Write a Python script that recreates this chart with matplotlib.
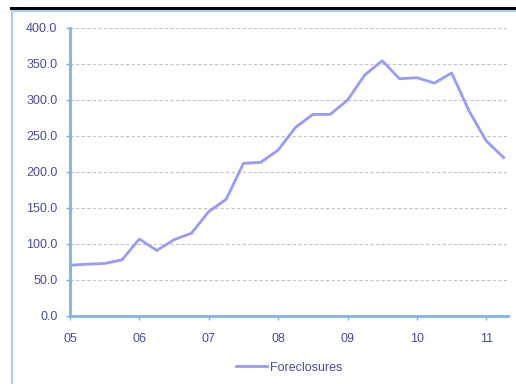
import matplotlib.pyplot as plt
from matplotlib.lines import Line2D

plt.rcParams['font.family'] = ['Liberation Sans', 'DejaVu Sans']

# quarterly values, 2005 Q1 .. 2011 Q2
quarters = list(range(26))
foreclosures = [70.5, 72, 73, 78, 107, 91, 106, 115, 145, 162, 212, 213.5,
                230.5, 262, 280, 280, 300, 335, 354.5, 329.5, 331, 323.5,
                337.5, 285, 243, 220]
year_labels = ['05', '06', '07', '08', '09', '10', '11']
y_ticks = [0, 50, 100, 150, 200, 250, 300, 350, 400]

text_col = '#4b4ba6'
spine_col = '#7fb3e8'
line_col = '#9999ff'

fig = plt.figure(figsize=(5.16, 3.84), dpi=100)

# outer frame and header rule
fig.add_artist(Line2D([11 / 516, 1], [1 - 7.5 / 384] * 2, color='black', lw=2.2))
fig.add_artist(Line2D([12 / 516, 12 / 516], [0, 1 - 10.5 / 384], color='#a9d0f2', lw=1.5))
fig.add_artist(Line2D([12 / 516, 1], [1 - 10.5 / 384] * 2, color='#a9d0f2', lw=1.5))

ax = fig.add_axes([70 / 516, 68 / 384, 438 / 516, 288 / 384])
ax.plot(quarters, foreclosures, color=line_col, lw=2, label='Foreclosures')

ax.set_xlim(0, 25.25)
ax.set_ylim(0, 400)
ax.set_xticks(range(0, 25, 4))
ax.set_xticklabels(year_labels)
ax.set_yticks(y_ticks)
ax.set_yticklabels([f'{v:.1f}' for v in y_ticks])

for y in y_ticks[1:]:
    ax.axhline(y, color='#c4c4c4', lw=0.8, ls=(0, (3, 2)), zorder=0)

for s in ['top', 'right']:
    ax.spines[s].set_visible(False)
for s in ['left', 'bottom']:
    ax.spines[s].set_color(spine_col)
    ax.spines[s].set_linewidth(2)

ax.tick_params(axis='both', colors=spine_col, labelcolor=text_col, labelsize=9,
               length=3, width=1)
ax.tick_params(axis='x', pad=9)
ax.tick_params(axis='y', pad=6)

ax.legend(loc='upper center', bbox_to_anchor=(0.5, -0.12), frameon=False,
          fontsize=9, labelcolor=text_col, handlelength=2.5, handletextpad=0.2)

fig.savefig('out.png', dpi=100)
